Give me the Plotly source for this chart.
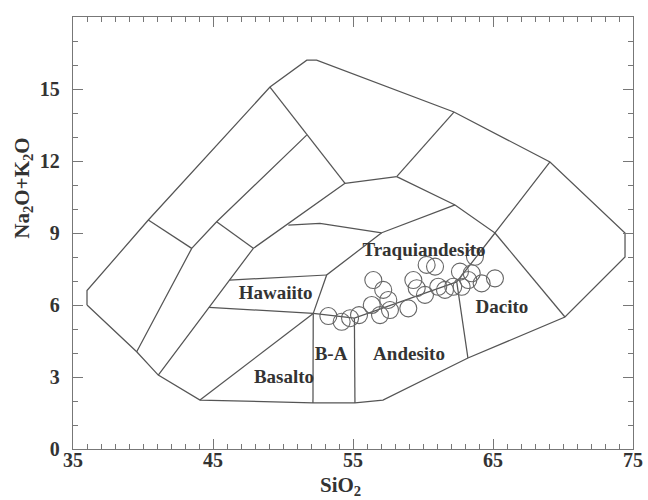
import plotly.graph_objects as go

# ---- field boundaries (SiO2, Na2O+K2O) ----
outer_x = [36.0, 36.0, 40.38, 49.07, 51.7, 52.4, 62.21, 69.07, 74.43, 74.43, 70.14, 63.21, 57.14, 55.14, 52.14, 44.07, 41.09, 39.55, 36.0]
outer_y = [6.0, 6.6, 9.54, 15.08, 16.2, 16.2, 14.04, 11.96, 9.0, 8.0, 5.5, 3.79, 2.04, 1.92, 1.92, 2.04, 3.08, 4.05, 6.0]

b1_x = [40.38, 43.48]; b1_y = [9.54, 8.36]
b2_x = [39.55, 43.48, 45.26, 51.69]; b2_y = [4.05, 8.36, 9.47, 13.08]
b3_x = [49.07, 54.43]; b3_y = [15.08, 11.07]
b4_x = [45.26, 47.88]; b4_y = [9.47, 8.36]
b5_x = [41.09, 47.88, 54.43]; b5_y = [3.08, 8.36, 11.07]
b6_x = [54.43, 58.12]; b6_y = [11.07, 11.35]
b7_x = [58.12, 62.21]; b7_y = [11.35, 14.04]
b8_x = [58.12, 62.29, 65.14, 69.07]; b8_y = [11.35, 10.17, 9.0, 11.96]
b9_x = [65.14, 70.14]; b9_y = [9.0, 5.5]
b10_x = [50.38, 52.64, 57.05]; b10_y = [9.33, 9.40, 9.01]
b11_x = [57.05, 62.29]; b11_y = [9.01, 10.17]
b12_x = [57.05, 53.12, 52.16]; b12_y = [9.01, 7.25, 5.65]
b13_x = [46.18, 53.12]; b13_y = [7.04, 7.25]
b14_x = [44.71, 52.16]; b14_y = [5.9, 5.65]
b15_x = [52.16, 44.07]; b15_y = [5.65, 2.04]
b16_x = [52.16, 52.14]; b16_y = [5.65, 1.92]
b17_x = [52.16, 55.1, 62.41]; b17_y = [5.65, 5.45, 6.96]
b18_x = [55.1, 55.14]; b18_y = [5.45, 1.92]
b19_x = [65.14, 62.41, 63.21]; b19_y = [9.0, 6.96, 3.79]

# ---- samples ----
sio2 = [53.24, 54.19, 54.79, 55.43, 56.34, 56.93, 56.45, 57.16, 57.52, 57.64,
        58.95, 59.31, 59.55, 60.14, 60.26, 60.86, 61.09, 61.57, 62.16, 62.64,
        62.76, 63.24, 63.48, 63.71, 64.19, 65.14]
alk = [5.54, 5.30, 5.45, 5.58, 6.00, 5.58, 7.04, 6.63, 6.21, 5.79,
       5.86, 7.04, 6.70, 6.42, 7.67, 7.60, 6.76, 6.63, 6.76, 7.39,
       6.76, 7.04, 7.32, 8.01, 6.90, 7.11]

# ---- field labels ----
label_text = ["Traquiandesito", "Hawaiito", "Basalto", "B-A", "Andesito", "Dacito"]
label_x = [60.07, 49.47, 50.07, 53.43, 59.0, 65.64]
label_y = [8.25, 6.46, 2.96, 3.92, 3.92, 5.87]

# ---- ticks ----
x_ticks = [35, 45, 55, 65, 75]
y_ticks = [0, 3, 6, 9, 12, 15]

LINE = "#555555"
TXT = "#333333"
SERIF = "Liberation Serif"

polylines = [(outer_x, outer_y), (b1_x, b1_y), (b2_x, b2_y), (b3_x, b3_y), (b4_x, b4_y),
             (b5_x, b5_y), (b6_x, b6_y), (b7_x, b7_y), (b8_x, b8_y), (b9_x, b9_y),
             (b10_x, b10_y), (b11_x, b11_y), (b12_x, b12_y), (b13_x, b13_y),
             (b14_x, b14_y), (b15_x, b15_y), (b16_x, b16_y), (b17_x, b17_y),
             (b18_x, b18_y), (b19_x, b19_y)]

fig = go.Figure()
for xs, ys in polylines:
    fig.add_trace(go.Scatter(x=xs, y=ys, mode="lines",
                             line=dict(color=LINE, width=1.25),
                             hoverinfo="skip", showlegend=False))

fig.add_trace(go.Scatter(x=sio2, y=alk, mode="markers",
                         marker=dict(symbol="circle-open", size=17, color="#666666",
                                     line=dict(width=1.1)),
                         showlegend=False))

fig.add_trace(go.Scatter(x=label_x, y=label_y, mode="text", text=label_text,
                         textfont=dict(family=SERIF, size=19, color=TXT, weight="bold"),
                         hoverinfo="skip", showlegend=False))

axis_common = dict(
    ticks="inside", ticklen=10, tickwidth=1, tickcolor="#777777",
    showline=True, linecolor="#777777", linewidth=1.3, mirror="ticks",
    showgrid=False, zeroline=False, automargin=False,
    tickfont=dict(family=SERIF, size=20, color=TXT, weight="bold"),
    minor=dict(ticks="inside", ticklen=5, tickcolor="#777777", tickwidth=1, dtick=1, showgrid=False),
)

title_font = dict(family=SERIF, size=21, color=TXT, weight="bold")

fig.update_layout(
    width=648, height=500,
    margin=dict(l=73, r=15, t=17, b=51),
    paper_bgcolor="white", plot_bgcolor="white",
    showlegend=False,
    xaxis=dict(range=[35, 75], tickvals=x_ticks, ticktext=[str(v) for v in x_ticks],
               ticklabelstandoff=-7, **axis_common),
    yaxis=dict(range=[0, 18], tickvals=y_ticks, ticktext=[str(v) for v in y_ticks],
               ticklabelstandoff=8, **axis_common),
    annotations=[
        dict(text="Na<sub>2</sub>O+K<sub>2</sub>O", xref="paper", yref="paper",
             x=-0.09, y=0.604, textangle=-90, showarrow=False,
             xanchor="center", yanchor="middle", font=title_font),
        dict(text="SiO<sub>2</sub>", xref="paper", yref="paper",
             x=0.477, y=-0.086, showarrow=False,
             xanchor="center", yanchor="middle", font=title_font),
    ],
)

fig.write_html("out.html", config={"displayModeBar": False},
               post_script="document.body.style.margin='0';document.body.style.overflow='hidden';")
